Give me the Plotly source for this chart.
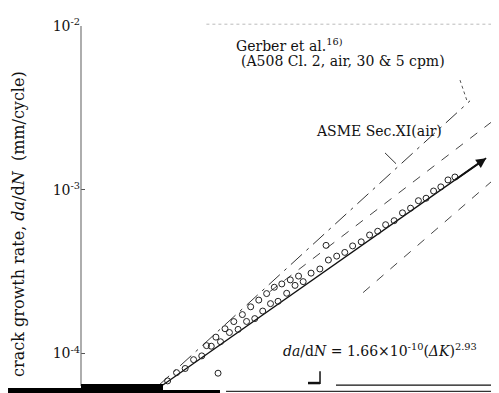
import plotly.graph_objects as go
import math

# ---------------- data ----------------
# stress intensity factor range, ΔK, and crack growth rate, da/dN (mm/cycle)
band_dK = [82, 84.5, 87, 89.5, 92, 95, 98, 101, 104, 107, 110, 113, 116, 119,
           122.5, 126, 129.5, 133, 137, 141, 145, 149, 153, 157.5, 162, 166.5,
           171, 176, 181, 186, 191, 196, 201, 206, 211, 216]
band_dadN = [6.81e-5, 7.65e-5, 8.11e-5, 9.18e-5, 9.68e-5, 1.109e-4, 1.181e-4,
             1.345e-4, 1.405e-4, 1.571e-4, 1.635e-4, 1.818e-4, 2.018e-4,
             2.085e-4, 2.334e-4, 2.608e-4, 2.749e-4, 3.098e-4, 3.285e-4,
             3.726e-4, 3.936e-4, 4.146e-4, 4.543e-4, 4.811e-4, 5.295e-4,
             5.582e-4, 6.120e-4, 6.477e-4, 7.232e-4, 7.721e-4, 8.578e-4,
             8.881e-4, 9.829e-4, 1.042e-3, 1.149e-3, 1.197e-3]
upper_dK = [93.5, 96.5, 99.5, 102.5, 105.5, 108.5, 111.5, 114.5, 117.5, 120.5,
            124, 127.5]
upper_dadN = [1.118e-4, 1.260e-4, 1.418e-4, 1.568e-4, 1.730e-4, 1.930e-4,
              2.121e-4, 2.324e-4, 2.541e-4, 2.662e-4, 2.817e-4, 2.972e-4]
outlier_dK = [97.2, 139.9]
outlier_dadN = [7.59e-5, 4.578e-4]

# reference lines
asme_dK = [79.4, 227.3]
asme_dadN = [6.34e-5, 3.495e-3]
gerber_hi_dK = [115.8, 243.9]
gerber_hi_dadN = [2.393e-4, 2.578e-3]
gerber_lo_dK = [158.5, 247.3]
gerber_lo_dadN = [2.357e-4, 1.173e-3]
fit_dK = [80.7, 240.0]
fit_dadN = [6.43e-5, 1.56e-3]

ytick_vals = [1e-4, 1e-3, 1e-2]
ytick_text = ["10<sup>-4</sup>", "10<sup>-3</sup>", "10<sup>-2</sup>"]

SERIF = "DejaVu Serif"

fig = go.Figure()

fig.add_trace(go.Scatter(x=asme_dK, y=asme_dadN, mode="lines",
                         line=dict(color="#333", width=1, dash="longdashdot"),
                         hoverinfo="skip"))
fig.add_trace(go.Scatter(x=gerber_hi_dK, y=gerber_hi_dadN, mode="lines",
                         line=dict(color="#444", width=1, dash="dash"),
                         hoverinfo="skip"))
fig.add_trace(go.Scatter(x=gerber_lo_dK, y=gerber_lo_dadN, mode="lines",
                         line=dict(color="#444", width=1, dash="dash"),
                         hoverinfo="skip"))
fig.add_trace(go.Scatter(x=fit_dK, y=fit_dadN, mode="lines",
                         line=dict(color="#111", width=1.3),
                         hoverinfo="skip"))
fig.add_trace(go.Scatter(x=band_dK + upper_dK + outlier_dK,
                         y=band_dadN + upper_dadN + outlier_dadN,
                         mode="markers",
                         marker=dict(symbol="circle-open", size=6,
                                     color="#222", line=dict(width=1))))

# thick arrow at the upper end of the fit line
lx0, lx1 = math.log10(fit_dK[0]), math.log10(fit_dK[1])
ly0, ly1 = math.log10(fit_dadN[0]), math.log10(fit_dadN[1])
f = 0.9
fig.add_annotation(x=lx1, y=ly1, ax=lx0 + f * (lx1 - lx0), ay=ly0 + f * (ly1 - ly0),
                   xref="x", yref="y", axref="x", ayref="y", text="",
                   showarrow=True, arrowhead=2, arrowsize=1, arrowwidth=2,
                   arrowcolor="#111")

def ann(text, x, y, size=14, xanchor="left", angle=0):
    fig.add_annotation(text=text, x=x, y=y, xref="paper", yref="paper",
                       xanchor=xanchor, yanchor="middle", showarrow=False,
                       textangle=angle,
                       font=dict(family=SERIF, size=size, color="#111"))

ann("Gerber et al.<sup>16)</sup>", 0.366, 0.948)
ann("(A508 Cl. 2, air, 30 &amp; 5 cpm)", 0.378, 0.902)
ann("ASME Sec.XI(air)", 0.557, 0.708)
ann("<i>da</i>/d<i>N</i> = 1.66×10<sup>-10</sup>(<i>ΔK</i>)<sup>2.93</sup>", 0.478, 0.101)
ann("crack growth rate, <i>da</i>/d<i>N</i>  (mm/cycle)", -0.151, 0.45,
    size=16, xanchor="center", angle=-90)

shapes = [
    # frame
    dict(type="line", xref="paper", yref="paper", x0=0, x1=0, y0=0, y1=1,
         line=dict(color="#777", width=1.2)),
    dict(type="line", xref="paper", yref="paper", x0=1, x1=1, y0=0, y1=1.005,
         line=dict(color="#222", width=1.5)),
    dict(type="line", xref="paper", yref="paper", x0=0.3, x1=1, y0=1.005, y1=1.005,
         line=dict(color="#bbb", width=1, dash="dot")),
    dict(type="line", xref="paper", yref="paper", x0=0.61, x1=1, y0=0.0027, y1=0.0027,
         line=dict(color="#111", width=1.2)),
    # heavy base of the scanned axis
    dict(type="rect", xref="paper", yref="paper", x0=-0.1746, x1=0.0048,
         y0=-0.0246, y1=-0.0055, fillcolor="#000", line=dict(width=0)),
    dict(type="rect", xref="paper", yref="paper", x0=0.0, x1=0.1962,
         y0=-0.0246, y1=0.0055, fillcolor="#000", line=dict(width=0)),
    dict(type="rect", xref="paper", yref="paper", x0=0.1962, x1=0.3325,
         y0=-0.0191, y1=-0.0109, fillcolor="#000", line=dict(width=0)),
    dict(type="line", xref="paper", yref="paper", x0=0.347, x1=1.02, y0=-0.015, y1=-0.015,
         line=dict(color="#333", width=1.2)),
    dict(type="line", xref="paper", yref="paper", x0=0.347, x1=1.02, y0=-0.0246, y1=-0.0246,
         line=dict(color="#555", width=1.2)),
    # leaders
    dict(type="line", xref="paper", yref="paper", x0=0.9067, x1=0.9234, y0=0.8497, y1=0.7923,
         line=dict(color="#555", width=1, dash="dot")),
    dict(type="line", xref="paper", yref="paper", x0=0.7273, x1=0.7536, y0=0.6475, y1=0.6175,
         line=dict(color="#333", width=1)),
    # remnants of cut labels at the bottom
    dict(type="line", xref="paper", yref="paper", x0=0.5718, x1=0.5718, y0=0.0410, y1=0.0055,
         line=dict(color="#111", width=1.5)),
    dict(type="line", xref="paper", yref="paper", x0=0.5431, x1=0.5718, y0=0.0082, y1=0.0082,
         line=dict(color="#111", width=2.5)),
]
fig.update_layout(shapes=shapes)

fig.update_layout(
    width=499, height=393,
    margin=dict(l=73, r=8, t=12, b=15),
    paper_bgcolor="white", plot_bgcolor="white",
    showlegend=False,
    xaxis=dict(type="log", range=[1.787, 2.399], showgrid=False, zeroline=False,
               showline=False, showticklabels=False, ticks=""),
    yaxis=dict(type="log", range=[-4.198, -2], showgrid=False, zeroline=False,
               showline=False, tickvals=ytick_vals, ticktext=ytick_text,
               ticks="inside", ticklen=4, tickcolor="#555",
               tickfont=dict(family=SERIF, size=14, color="#111")),
)

fig.write_html("out.html")
